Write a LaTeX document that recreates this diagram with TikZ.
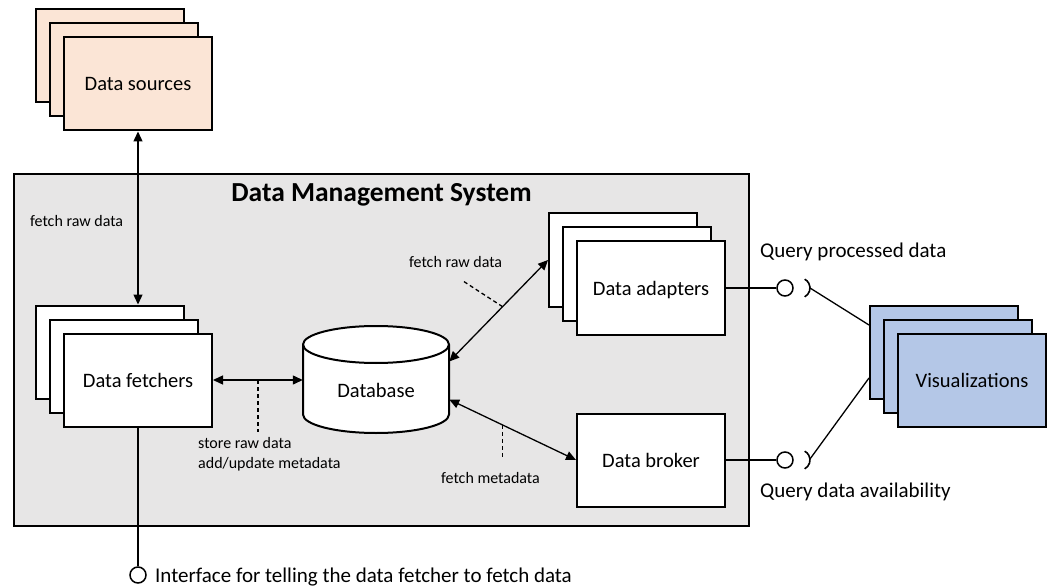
\documentclass[tikz,border=0pt]{standalone}
\usepackage{fontspec}
\setmainfont{Carlito}
\usetikzlibrary{arrows.meta,calc}
\definecolor{peach}{HTML}{FBE5D6}
\definecolor{vblue}{HTML}{B4C7E7}
\definecolor{sysgray}{HTML}{E7E6E6}
\newcommand\DMSstack[5]{%
  \node[stackbox,fill=#4] (#1-b2) at (#2-28,#3-28) {};
  \node[stackbox,fill=#4] (#1-b1) at (#2-14,#3-14) {};
  \node[stackbox,fill=#4] (#1) at (#2,#3) {#5};}
\begin{document}
\begin{tikzpicture}[x=1pt,y=-1pt,
  stackbox/.style={draw=black, line width=2pt, minimum width=148pt, minimum height=93pt,
    inner sep=0pt, text depth=0pt, font=\fontsize{20.5}{24}\selectfont},
  conn/.style={line width=1.3pt},
  sock/.style={line width=1.6pt},
  arr/.style={line width=1.3pt, {Triangle[length=10pt,width=9pt]}-{Triangle[length=10pt,width=9pt]}},
  dsh/.style={line width=1.3pt, dash pattern=on 4pt off 3pt},
  lbl/.style={inner sep=0pt, font=\fontsize{16}{20.5}\selectfont},
  big/.style={inner sep=0pt, font=\fontsize{21}{25}\selectfont},
  ball/.style={draw, line width=1.5pt, fill=white, circle, minimum size=16pt, inner sep=0pt}]
\useasboundingbox (0,0) rectangle (1047,588);
\fill[white] (0,0) rectangle (1047,588);
% system box
\node[draw, line width=2.2pt, fill=sysgray, minimum width=735pt, minimum height=352pt,
  inner sep=0pt, anchor=north west] (dms) at (13,173) {};
\node[font=\bfseries\fontsize{27.5}{32}\selectfont, anchor=base, inner sep=0pt] (title) at (381.5,202) {Data Management System};
% stacks
\DMSstack{ds}{138}{84}{peach}{Data sources}
\DMSstack{fe}{138}{380}{white}{Data fetchers}
\DMSstack{ad}{651}{288}{white}{Data adapters}
\DMSstack{vi}{972}{380}{vblue}{Visualizations}
\node[stackbox, fill=white] (br) at (651,460) {Data broker};
% database
\node[minimum width=146pt, minimum height=107pt, inner sep=0pt] (db) at (376,379.5) {};
\draw[line width=2pt, fill=white] (303,344.5) -- (303,414.5)
  arc[start angle=180, end angle=360, x radius=73pt, y radius=18.5pt] -- (449,344.5)
  arc[start angle=0, end angle=180, x radius=73pt, y radius=18.5pt] -- cycle;
\draw[line width=2pt] (303,344.5) arc[start angle=180, end angle=360, x radius=73pt, y radius=18.5pt];
\node[inner sep=0pt, font=\fontsize{20.5}{24}\selectfont] (dbt) at (376,390) {Database};
% data sources <-> fetchers
\draw[arr] (ds.south) -- (ds.south |- fe-b2.north);
\node[lbl, anchor=base west] (lfr1) at (30,227) {fetch raw data};
% fetchers <-> database
\draw[arr] (fe.east) -- coordinate[pos=0.5] (m1) (fe.east -| db.west);
\node[lbl, anchor=north west, align=left] (lst) at (198,437) {store raw data\\add/update metadata};
\draw[dsh, shorten >=5pt] (m1) -- (m1 |- lst.north);
% adapters <-> database
\coordinate (dbA) at ($(db.east)+(0,-18)$);
\draw[arr] (ad-b2.west) -- coordinate[pos=0.46] (m3) (dbA);
\coordinate (m3e) at ($(m3)+(-40,-26)$);
\draw[dsh] (m3) -- (m3e);
\node[lbl, anchor=base west] (lfr2) at (409,268) {fetch raw data};
% broker <-> database
\coordinate (dbB) at ($(db.east)+(0,20)$);
\draw[arr] (dbB) -- coordinate[pos=0.42] (m2) (br.west);
\node[lbl, anchor=base west] (lfm) at (441,483) {fetch metadata};
\draw[dsh, shorten >=12pt] (m2) -- (m2 |- lfm.north);
% interfaces to visualizations
\node[ball] (b1) at (785,288) {};
\draw[conn] (ad.east) -- (b1.west);
\coordinate (s1) at (800,288);
\draw[sock] ([shift={(-62:10pt)}]s1) arc[start angle=-62, end angle=62, radius=10pt];
\coordinate (s1p) at ($(s1)+(10,0)$);
\coordinate (v1) at ($(vi-b2.west)+(0,-27)$);
\draw[conn] (s1p) -- (v1);
\node[ball] (b2) at (785,460) {};
\draw[conn] (br.east) -- (b2.west);
\coordinate (s2) at (800,460);
\draw[sock] ([shift={(-62:10pt)}]s2) arc[start angle=-62, end angle=62, radius=10pt];
\coordinate (s2p) at ($(s2)+(10,-1)$);
\coordinate (v2) at ($(vi-b2.west)+(0,26)$);
\draw[conn] (s2p) -- (v2);
\node[big, anchor=base west] (lq1) at (760,258) {Query processed data};
\node[big, anchor=base west] (lq2) at (760,497) {Query data availability};
% bottom interface
\node[ball] (b3) at (138,575) {};
\draw[conn] (fe.south) -- (b3.north);
\node[big, anchor=base west] (lif) at (155,582) {Interface for telling the data fetcher to fetch data};
\end{tikzpicture}
\end{document}
